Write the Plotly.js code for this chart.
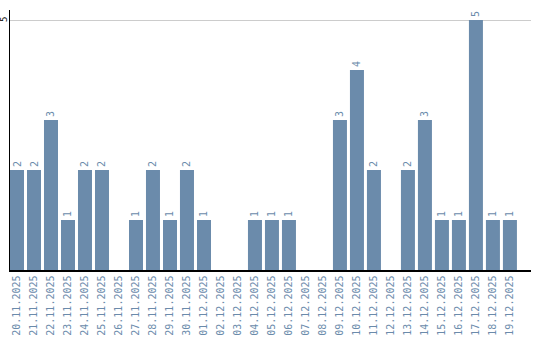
<!DOCTYPE html>
<html><head><meta charset="utf-8">
<script src="https://cdn.plot.ly/plotly-3.0.1.min.js"></script>
<style>html,body{margin:0;padding:0;background:#fff}#c{width:540px;height:340px}</style>
</head><body><div id="c"></div>
<script>
const dates = ["20.11.2025","21.11.2025","22.11.2025","23.11.2025","24.11.2025","25.11.2025","26.11.2025","27.11.2025","28.11.2025","29.11.2025","30.11.2025","01.12.2025","02.12.2025","03.12.2025","04.12.2025","05.12.2025","06.12.2025","07.12.2025","08.12.2025","09.12.2025","10.12.2025","11.12.2025","12.12.2025","13.12.2025","14.12.2025","15.12.2025","16.12.2025","17.12.2025","18.12.2025","19.12.2025"];
const counts = [2,2,3,1,2,2,0,1,2,1,2,1,0,0,1,1,1,0,0,3,4,2,0,2,3,1,1,5,1,1];
const yTicks = [5];

const barColor = '#6b8bab';
const labels = counts.map(v => v > 0 ? String(v) : '');

Plotly.newPlot('c', [{
  type: 'bar',
  x: dates,
  y: counts,
  text: labels,
  textposition: 'outside',
  textangle: -90,
  constraintext: 'none',
  cliponaxis: false,
  textfont: {family: 'DejaVu Sans Mono', size: 10, color: barColor},
  marker: {color: barColor},
  hoverinfo: 'none'
}], {
  width: 540, height: 340,
  margin: {l: 10, r: 9, t: 10, b: 70},
  paper_bgcolor: '#fff', plot_bgcolor: '#fff',
  bargap: 0.176,
  showlegend: false,
  xaxis: {
    type: 'category',
    range: [-0.412, 30.24],
    tickangle: -90,
    tickfont: {family: 'DejaVu Sans Mono', size: 10, color: barColor},
    showgrid: false, zeroline: false,
    showline: true, linecolor: '#000', linewidth: 1.5,
    ticks: '', fixedrange: true
  },
  yaxis: {
    range: [0, 5.2],
    tickvals: yTicks,
    showticklabels: false,
    showgrid: true, gridcolor: '#cccccc', gridwidth: 1,
    zeroline: false,
    showline: true, linecolor: '#000', linewidth: 1.5,
    ticks: '', fixedrange: true
  },
  annotations: yTicks.map(v => ({
    xref: 'paper', yref: 'y', x: 0, y: v,
    text: String(v), showarrow: false, textangle: -90,
    xanchor: 'center', yanchor: 'middle', xshift: -6,
    font: {family: 'DejaVu Sans Mono', size: 9, color: '#000'}
  }))
}, {displayModeBar: false, staticPlot: true});
</script></body></html>
